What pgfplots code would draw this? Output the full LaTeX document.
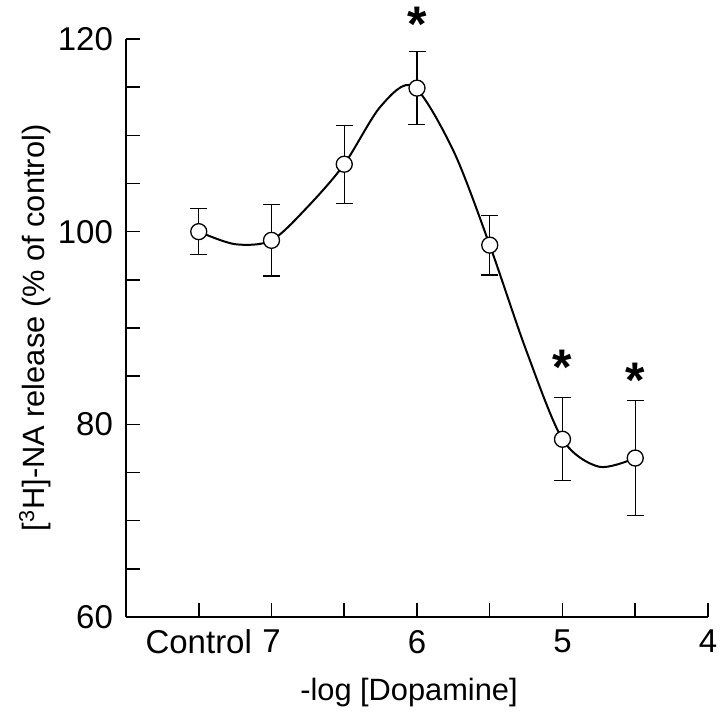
\documentclass[border=0pt]{standalone}
\usepackage{fontspec}
\setmainfont{Liberation Sans}
\usepackage{pgfplots}
\pgfplotsset{compat=1.18}
\begin{document}
\begin{tikzpicture}
\begin{axis}[
 scale only axis, width=291pt, height=289pt,
 xmin=-1, xmax=7, ymin=60, ymax=120,
 axis x line*=bottom, axis y line*=left,
 axis line style={line width=0.75pt, -},
 xtick={0,1,2,3,4,5,6,7},
 xticklabels={Control,7,,6,,5,,4},
 ytick={60,80,100,120},
 minor ytick={65,70,75,85,90,95,105,110,115},
 tick align=inside,
 major tick length=7pt, minor tick length=7pt,
 tick style={line width=0.75pt, black},
 every tick label/.append style={font=\fontsize{16.5}{18}\selectfont},
 /pgf/number format/assume math mode=true,
 xticklabel style={yshift=-3pt},
 yticklabel style={xshift=-3pt},
 xlabel={-log [Dopamine]},
 ylabel={[\textsuperscript{3}H]-NA release (\% of control)},
 label style={font=\fontsize{15.4}{18}\selectfont},
 xlabel style={at={(axis description cs:0.5,0)}, anchor=center, yshift=-38pt, xshift=-4pt},
 ylabel style={at={(axis description cs:-0.1564,0.5)}, anchor=center},
 clip=false,
]
\coordinate (ll) at (rel axis cs:0,0);
\coordinate (ur) at (rel axis cs:1,1);
% error bars
\addplot[only marks, mark=none,
  error bars/.cd, y dir=both, y explicit,
  error bar style={line width=0.65pt, black},
  error mark options={rotate=90, mark size=4.25pt, line width=0.65pt, black}]
 coordinates {
 (0,100) +- (0,2.4)
 (1,99.1) +- (0,3.7)
 (2,107.0) +- (0,4.05)
 (3,114.9) +- (0,3.8)
 (4,98.6) +- (0,3.1)
 (5,78.45) +- (0,4.3)
 (6,76.5) +- (0,5.95)
 };
% circles
\addplot[only marks, mark=*, mark size=4pt,
  mark options={fill=white, draw=black, line width=0.65pt}]
 coordinates {
 (0,100) (1,99.1) (2,107.0) (3,114.9) (4,98.6) (5,78.45) (6,76.5)
 };
% fitted curve
\addplot[smooth, tension=0.5, line width=1pt, black, mark=none]
 coordinates {
 (0,100) (0.5,98.7) (1,99.1) (1.5,102.6) (2,107.0) (2.5,113.0)
 (2.95,115.1) (3.5,108.4) (4,98.6) (4.5,87.7) (5,78.45)
 (5.5,75.6) (6,76.5)
 };
% significance stars
\addplot[only marks, mark=none,
  nodes near coords={\bfseries *},
  every node near coord/.append style={anchor=center, inner sep=0pt,
    font=\fontsize{25}{25}\selectfont}]
 coordinates {(3,121.5) (5,85.9) (6,84.6)};
\end{axis}
\pgfresetboundingbox
\path ([shift={(-63pt,-50.5pt)}]ll) rectangle ([shift={(6pt,19.5pt)}]ur);
\end{tikzpicture}
\end{document}
